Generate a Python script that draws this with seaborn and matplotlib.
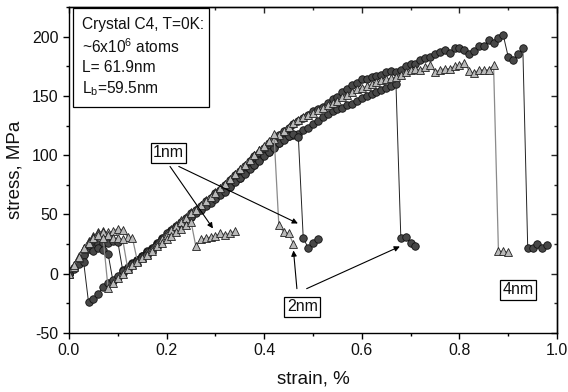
import matplotlib
matplotlib.use("Agg")
import numpy as np
import matplotlib.pyplot as plt
from matplotlib.ticker import MultipleLocator, FormatStrFormatter
from matplotlib.patches import Rectangle
import seaborn as sns

# ---------------- data ----------------
# every series is sampled at a fixed strain step starting at 0 %
STRAIN_STEP = 0.01

# circles
c1_stress = [0, 4, 8, 10, -24, -21, -17, -11, -8, -5, -2,
             2, 5, 8, 11, 14, 17, 20, 24, 28, 32,
             35, 38, 41, 44, 48, 51, 54, 57, 60, 63,
             66, 69, 73, 77, 81, 84, 88, 92, 95, 99,
             103, 106, 110, 113, 116, 118, 115,
             30, 22, 26, 29]
c2_stress = [0, 5, 10, 16, 24, 19, 22, 20, 17, -6, -3,
             1, 4, 8, 12, 15, 18, 21, 25, 29, 32,
             36, 39, 42, 45, 48, 52, 55, 58, 61, 64,
             67, 70, 74, 78, 81, 85, 89, 92, 96, 100,
             103, 107, 110, 114,
             116, 117, 118, 121, 123, 126, 129, 132, 135, 137,
             139, 140, 142, 143, 146, 148, 150, 152, 153, 155,
             157, 158, 160,
             30, 31, 26, 23]
c3_stress = [0, 5, 11, 17, 21, 23, 25, 26, 26, 28, 27,
             3, 6, 9, 12, 15, 19, 22, 26, 30, 34,
             37, 40, 44, 47, 51, 54, 57, 61, 64, 68,
             71, 75, 79, 83, 87, 91, 95, 99, 102, 106,
             110, 114, 117, 120,
             123, 126, 129, 131, 134, 137, 139, 141, 144, 147,
             149, 153, 156, 159, 161, 164, 164, 166, 167, 168,
             170, 171, 170, 172, 175, 177, 177, 180, 182, 183,
             185, 187, 189, 186, 190, 190, 189, 185, 188, 192,
             192, 197, 195, 199, 201, 183, 180, 185, 190,
             22, 22, 25, 22, 24]

# triangles
t1_stress = [0, 7, 14, 22, 26, 30, 33, 30, -12, -8, -4, 0,
             4, 7, 10, 13, 16, 19, 23, 26, 29, 32, 35, 38, 41, 44,
             23, 29, 30, 31, 32, 34, 33, 34, 36]
t2_stress = [0, 6, 13, 21, 27, 31, 34, 35, 33, 30, 30, 29,
             5, 8, 11, 14, 17, 21, 25, 29, 33, 37,
             40, 44, 47, 51, 54, 58, 61, 65, 68, 72,
             76, 80, 84, 88, 92, 96, 100, 104, 108, 112,
             118,
             41, 35, 34, 25]
t3_stress = [0, 7, 15, 22, 28, 32, 35, 36, 35, 36, 38, 37, 31, 30,
             11, 14, 18, 22, 26, 30, 34, 38, 41, 45,
             48, 52, 55, 58, 62, 65, 69, 72, 76, 80,
             84, 88, 92, 96, 100, 104, 107, 111, 114, 117, 120,
             124, 127, 130, 132, 134, 136, 138, 140, 142, 144,
             146, 149, 151, 153, 156, 157, 158, 160, 162, 163,
             164, 165, 166, 168, 170, 172, 173, 172, 174, 176,
             170, 172, 173, 173, 175, 176, 178, 171, 169, 172,
             172, 172, 176,
             19, 19, 18]

circle_series = [c3_stress, c2_stress, c1_stress]
triangle_series = [t3_stress, t2_stress, t1_stress]

x_ticks = [0.0, 0.2, 0.4, 0.6, 0.8, 1.0]
y_ticks = [-50, 0, 50, 100, 150, 200]

info_lines = ["Crystal C4, T=0K:",
              r"~6x10$^{\mathregular{6}}$ atoms",
              "L= 61.9nm",
              r"L$_{\mathregular{b}}$=59.5nm"]

# (label, label position, list of arrow targets)
size_labels = [
    ("1nm", (0.204, 102), [((0.207, 90.5), (0.295, 38.2)),
                           ((0.225, 90.5), (0.469, 42.4))]),
    ("2nm", (0.478, -28), [((0.467, -12.6), (0.460, 19.6)),
                           ((0.487, -12.6), (0.678, 23.0))]),
    ("4nm", (0.920, -13.5), []),
]

# ---------------- plotting ----------------
sns.set_theme(style="ticks")
plt.rcParams['font.family'] = ['Liberation Sans', 'DejaVu Sans']
plt.rcParams['axes.unicode_minus'] = False
plt.rcParams['mathtext.fontset'] = 'custom'
plt.rcParams['mathtext.rm'] = 'Liberation Sans'
plt.rcParams['mathtext.it'] = 'Liberation Sans:italic'
plt.rcParams['mathtext.bf'] = 'Liberation Sans:bold'

W, H = 568, 392
fig = plt.figure(figsize=(W / 100, H / 100), dpi=100)
L, R, T, B = 69, 557, 7, 333
ax = fig.add_axes([L / W, 1 - B / H, (R - L) / W, (B - T) / H])


def strain_of(stress):
    return np.arange(len(stress)) * STRAIN_STEP


for s in circle_series:
    sns.lineplot(x=strain_of(s), y=s, ax=ax, sort=False, estimator=None,
                 color="#222222", linewidth=0.7, marker="o", markersize=5.4,
                 markerfacecolor="#474747", markeredgecolor="#111111",
                 markeredgewidth=0.6)
for s in triangle_series:
    sns.lineplot(x=strain_of(s), y=s, ax=ax, sort=False, estimator=None,
                 color="#8a8a8a", linewidth=0.9, marker="^", markersize=6.0,
                 markerfacecolor="#b9b9b9", markeredgecolor="#222222",
                 markeredgewidth=0.6)

ax.set_xlim(0, 1.0)
ax.set_ylim(-50, 225)
ax.set_xticks(x_ticks)
ax.set_yticks(y_ticks)
ax.xaxis.set_major_formatter(FormatStrFormatter('%.1f'))
ax.xaxis.set_minor_locator(MultipleLocator(0.1))
ax.yaxis.set_minor_locator(MultipleLocator(25))
ax.tick_params(axis='both', which='major', direction='out', length=4.5,
               width=1.0, labelsize=11.5, color='black', labelcolor='#111111',
               top=False, right=False, pad=3)
ax.tick_params(axis='both', which='minor', direction='out', length=2.5,
               width=1.0, color='black', top=False, right=False)
for sp in ax.spines.values():
    sp.set_visible(True)
    sp.set_linewidth(1.0)
    sp.set_color('black')

secx = ax.secondary_xaxis('top')
secx.set_xticks(x_ticks)
secx.xaxis.set_minor_locator(MultipleLocator(0.1))
secx.tick_params(which='major', direction='in', length=4, width=1.0, labeltop=False)
secx.tick_params(which='minor', direction='in', length=2.5, width=1.0)
secy = ax.secondary_yaxis('right')
secy.set_yticks(y_ticks)
secy.yaxis.set_minor_locator(MultipleLocator(25))
secy.tick_params(which='major', direction='in', length=4, width=1.0, labelright=False)
secy.tick_params(which='minor', direction='in', length=2.5, width=1.0)
secx.spines['top'].set_linewidth(1.0)
secy.spines['right'].set_linewidth(1.0)

ax.set_xlabel("strain, %", fontsize=13.5, color='#111111', labelpad=9)
ax.set_ylabel("stress, MPa", fontsize=13.5, color='#111111', labelpad=6)

# info box
bx0, bx1 = (73 - L) / (R - L), (209 - L) / (R - L)
by0, by1 = (B - 107) / (B - T), (B - 8) / (B - T)
ax.add_patch(Rectangle((bx0, by0), bx1 - bx0, by1 - by0, transform=ax.transAxes,
                       facecolor='white', edgecolor='black', linewidth=0.9, zorder=5))
for i, line in enumerate(info_lines):
    ypx = [25, 47, 68, 89][i]
    ax.text((82 - L) / (R - L), (B - ypx) / (B - T), line, transform=ax.transAxes,
            fontsize=11.2, va='center', ha='left', color='#111111', zorder=6)

for label, pos, arrows in size_labels:
    ax.text(pos[0], pos[1], label, fontsize=11.5, ha='center', va='center',
            color='#111111', zorder=6,
            bbox=dict(boxstyle='square,pad=0.15', facecolor='white',
                      edgecolor='black', linewidth=0.9))
    for start, end in arrows:
        ax.annotate("", xy=end, xytext=start,
                    arrowprops=dict(arrowstyle='-|>', color='black', lw=0.8,
                                    mutation_scale=8, shrinkA=0, shrinkB=0),
                    zorder=6)

fig.savefig("out.png", dpi=100)
